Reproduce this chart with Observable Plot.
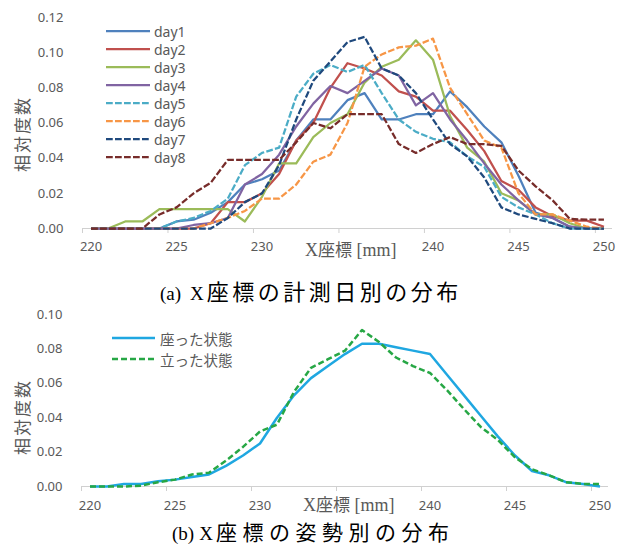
<!DOCTYPE html>
<html>
<head>
<meta charset="utf-8">
<script src="https://cdn.jsdelivr.net/npm/d3@7"></script>
<script src="https://cdn.jsdelivr.net/npm/@observablehq/plot@0.6"></script>
<style>
  html, body { margin: 0; padding: 0; background: #ffffff; }
  #fig { position: relative; width: 617px; height: 546px; overflow: hidden; background: #fff;
         font-family: "Noto Sans", "Noto Sans CJK JP", sans-serif; }
  #fig svg.plot { position: absolute; left: 0; }
  .ytitle { position: absolute; width: 80px; height: 20px; line-height: 20px; text-align: center;
            transform: rotate(-90deg); font-family: "Noto Sans CJK JP", sans-serif;
            font-size: 17px; color: #595959; letter-spacing: 2px; white-space: nowrap; }
  .xtitle { position: absolute; white-space: nowrap; color: #595959; line-height: 16px; }
  .xtitle .lat { font-family: "Liberation Serif", serif; font-size: 18px; }
  .xtitle .cjk { font-family: "Noto Sans CJK JP", sans-serif; font-size: 17px; }
  .cap { position: absolute; white-space: nowrap; color: #000; line-height: 22px; }
  .cap .lat { font-family: "Liberation Serif", serif; font-size: 19px; }
  .cap .cjk { font-family: "Noto Sans CJK JP", sans-serif; font-size: 22px; }
  .leg { position: absolute; display: flex; align-items: center; white-space: nowrap; color: #595959; }
</style>
</head>
<body>
<div id="fig"></div>
<script>
// ---------------- data ----------------
const categories = [220,221,222,223,224,225,226,227,228,229,230,231,232,233,234,235,236,237,238,239,240,241,242,243,244,245,246,247,248,249,250];
const xTickLabels = [220,225,230,240,245,250];
const xTickGroups = [220,225,230,235,240,245,250];
const yTicksA = [0,0.02,0.04,0.06,0.08,0.10,0.12];
const yTicksB = [0,0.02,0.04,0.06,0.08,0.10];

const seriesNamesA = ["day1","day2","day3","day4","day5","day6","day7","day8"];
const day1 = [0,0,0,0,0,0.004,0.005,0.009,0.015,0.025,0.028,0.033,0.050,0.062,0.062,0.073,0.077,0.062,0.062,0.065,0.065,0.078,0.069,0.058,0.049,0.030,0.009,0.006,0.001,0,0];
const day2 = [0,0,0,0,0,0,0,0.003,0.015,0.015,0.020,0.031,0.050,0.060,0.080,0.094,0.091,0.087,0.078,0.075,0.067,0.067,0.056,0.044,0.027,0.022,0.012,0.007,0.0045,0.0045,0.001];
const day3 = [0,0,0.004,0.004,0.011,0.011,0.011,0.011,0.011,0.004,0.018,0.037,0.037,0.052,0.060,0.065,0.083,0.092,0.096,0.107,0.096,0.064,0.046,0.038,0.020,0.016,0.008,0.008,0.003,0,0];
const day4 = [0,0,0,0,0,0,0.002,0.003,0.006,0.025,0.031,0.042,0.058,0.071,0.081,0.077,0.084,0.091,0.087,0.070,0.077,0.062,0.050,0.037,0.025,0.016,0.008,0.006,0.001,0,0];
const day5 = [0,0,0,0,0,0.004,0.006,0.010,0.017,0.036,0.043,0.046,0.075,0.088,0.093,0.089,0.093,0.077,0.062,0.055,0.051,0.049,0.041,0.035,0.018,0.012,0.008,0.003,0,0,0];
const day6 = [0,0,0,0,0,0,0,0.003,0.006,0.010,0.017,0.017,0.025,0.038,0.042,0.060,0.092,0.099,0.103,0.104,0.108,0.080,0.065,0.050,0.046,0.020,0.008,0.008,0.0045,0.001,0];
const day7 = [0,0,0,0,0,0,0,0,0.006,0.015,0.020,0.036,0.062,0.084,0.095,0.106,0.109,0.091,0.087,0.077,0.062,0.048,0.041,0.029,0.012,0.008,0.0055,0.003,0,0,0];
const day8 = [0,0,0,0,0.008,0.012,0.020,0.026,0.039,0.039,0.039,0.039,0.049,0.060,0.057,0.065,0.065,0.065,0.048,0.043,0.048,0.052,0.048,0.048,0.047,0.033,0.024,0.016,0.0055,0.005,0.005];
const valuesA = [day1,day2,day3,day4,day5,day6,day7,day8];

const seriesNamesB = ["座った状態","立った状態"];
const sitting  = [0,0,0.0015,0.0015,0.003,0.004,0.0055,0.007,0.012,0.018,0.025,0.040,0.053,0.063,0.070,0.077,0.083,0.083,0.081,0.079,0.077,0.065,0.053,0.041,0.029,0.018,0.009,0.0065,0.0025,0.0015,0];
const standing = [0,0,0,0.0005,0.0025,0.004,0.007,0.008,0.015,0.023,0.032,0.036,0.055,0.069,0.074,0.079,0.091,0.084,0.075,0.070,0.066,0.056,0.045,0.0345,0.027,0.017,0.010,0.0065,0.0025,0.0015,0.0015];
const valuesB = [sitting, standing];

// ---------------- styles ----------------
const colorsA = ["#4F81BD","#C0504D","#9BBB59","#8064A2","#4BACC6","#F79646","#1F497D","#772C2A"];
const dashedA = [false,false,false,false,true,true,true,true];
const colorsB = ["#1FA7E1","#27A745"];
const dashedB = [false,true];

const fig = document.getElementById("fig");
const fmt = d3.format(".2f");

function rows(vals, name) { return categories.map((c, i) => ({x: c, y: vals[i], s: name})); }

function panel(opts) {
  const lines = opts.values.map((v, i) => Plot.line(rows(v, opts.names[i]), {
    x: "x", y: "y", stroke: opts.colors[i], strokeWidth: opts.lw,
    strokeDasharray: opts.dashed[i] ? opts.dash : null,
    strokeLinejoin: "round", strokeLinecap: "butt"
  }));
  const svg = Plot.plot({
    width: 617, height: opts.height,
    marginLeft: opts.ml, marginRight: opts.mr, marginTop: opts.mt, marginBottom: opts.mb,
    x: {domain: [categories[0] - 0.5, categories[categories.length - 1] + 0.5]},
    y: {domain: [0, opts.yTicks[opts.yTicks.length - 1]]},
    style: {fontFamily: "'Noto Sans', sans-serif", fontSize: "13px", color: "#595959", background: "transparent", overflow: "visible"},
    marks: [
      Plot.axisY({ticks: opts.yTicks, tickSize: 0, tickPadding: 19, tickFormat: fmt, label: null, fontSize: 13, fill: "#595959"}),
      Plot.ruleY([0], {stroke: "#D0D0D0", strokeWidth: 1}),
      Plot.axisX({ticks: xTickGroups.map(d => d - 0.5), tickSize: 5, tickFormat: () => "", stroke: "#D0D0D0", label: null}),
      Plot.axisX({ticks: xTickLabels, tickSize: 0, tickPadding: opts.xpad, label: null, fontSize: 13, fill: "#595959"}),
      ...lines
    ]
  });
  svg.classList.add("plot");
  svg.style.top = opts.top + "px";
  fig.appendChild(svg);
}

panel({values: valuesA, names: seriesNamesA, colors: colorsA, dashed: dashedA, lw: 2.25, dash: "6.75,2.25",
       height: 265, ml: 82, mr: 5, mt: 17, mb: 37, top: 0, yTicks: yTicksA, xpad: 13});
panel({values: valuesB, names: seriesNamesB, colors: colorsB, dashed: dashedB, lw: 2.5, dash: "6,3",
       height: 228, ml: 81, mr: 9, mt: 18, mb: 38, top: 296, yTicks: yTicksB, xpad: 14});

// ---------------- texts ----------------
function add(html, cls, css) {
  const d = document.createElement("div");
  d.className = cls; d.innerHTML = html;
  Object.assign(d.style, css);
  fig.appendChild(d);
  return d;
}
// y titles (rotated), centred at (22,134) and (22,417)
add("相対度数", "ytitle", {left: (22 - 40) + "px", top: (134 - 10) + "px"});
add("相対度数", "ytitle", {left: (22 - 40) + "px", top: (417 - 10) + "px"});
// x titles
add('<span class="lat">X</span><span class="cjk">座標</span><span class="lat"> [mm]</span>', "xtitle", {left: "305px", top: "241px"});
add('<span class="lat">X</span><span class="cjk">座標</span><span class="lat"> [mm]</span>', "xtitle", {left: "303px", top: "496px"});
// captions (shared baseline)
add('<span class="lat">(a)</span><span class="lat" style="margin-left:9px">X</span><span class="cjk" style="margin-left:3px;letter-spacing:3.5px">座標の計測日別の分布</span>',
    "cap", {left: "160px", top: "279px"});
add('<span class="lat">(b)</span><span class="lat" style="margin-left:5px">X</span><span class="cjk" style="margin-left:3px;letter-spacing:5.5px;font-size:21px">座標の姿勢別の分布</span>',
    "cap", {left: "172px", top: "520px"});

// legends
function legend(names, colors, dashed, dash, lw, x0, y0, step, lineLen, gap, fontSize, fontFamily) {
  names.forEach((n, i) => {
    const row = document.createElement("div");
    row.className = "leg";
    Object.assign(row.style, {left: x0 + "px", top: (y0 + i * step - 10) + "px", height: "20px",
                              fontSize: fontSize + "px", fontFamily: fontFamily});
    const s = d3.create("svg").attr("width", lineLen).attr("height", 20).style("display", "block");
    s.append("line").attr("x1", 0).attr("x2", lineLen).attr("y1", 10).attr("y2", 10)
      .attr("stroke", colors[i]).attr("stroke-width", lw)
      .attr("stroke-dasharray", dashed[i] ? dash : null);
    row.appendChild(s.node());
    const t = document.createElement("span");
    t.textContent = n; t.style.marginLeft = gap + "px";
    row.appendChild(t);
    fig.appendChild(row);
  });
}
legend(seriesNamesA, colorsA, dashedA, "6.75,2.25", 2.25, 106, 31, 18, 44, 4, 14, "'Noto Sans', sans-serif");
legend(seriesNamesB, colorsB, dashedB, "6,3", 2.5, 112, 338, 21, 43, 5, 14.5, "'Noto Sans CJK JP', sans-serif");
</script>
</body>
</html>
